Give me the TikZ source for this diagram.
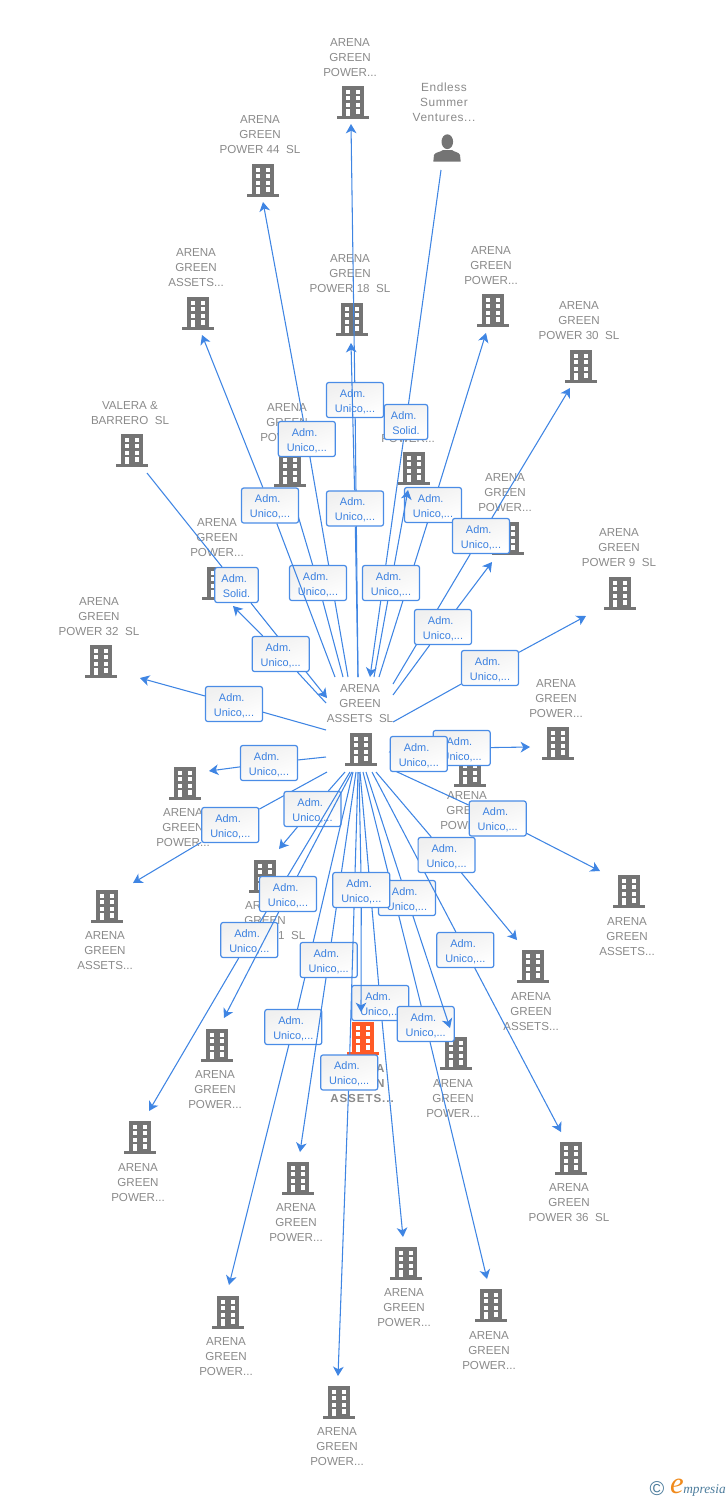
\documentclass[tikz,border=0pt]{standalone}
\usepackage{fontspec}
\setmainfont{Liberation Sans}
\newfontfamily\logofont{Liberation Serif}
\usetikzlibrary{arrows.meta,positioning}

\definecolor{linkblue}{HTML}{3F85E3}
\definecolor{boxblue}{HTML}{4A8CE6}
\definecolor{boxtext}{HTML}{3A80E0}
\definecolor{labelgrey}{HTML}{8A8A8A}
\definecolor{icongrey}{HTML}{747474}
\definecolor{iconred}{HTML}{FF5A26}
\definecolor{logoblue}{HTML}{4C7C9C}
\definecolor{logoorange}{HTML}{F08A1C}

\tikzstyle{link}     = [linkblue,line width=0.8pt,-{Stealth[length=7pt,width=8pt,inset=2pt]}]
\tikzstyle{plainlink}= [linkblue,line width=0.8pt]
\tikzstyle{admbox}   = [draw=boxblue,line width=0.9pt,rounded corners=1.6pt,top color=black!6,bottom color=white,shading angle=20,minimum width=42.7pt,minimum height=26.2pt,inner sep=0pt,align=center,text=boxtext,font=\fontsize{8.2}{11.25}\selectfont]
\tikzstyle{solidbox} = [admbox,minimum width=32.5pt]
\tikzstyle{company}  = [inner sep=0pt,yshift=-0.75pt,align=center,text=labelgrey,font=\fontsize{8.7}{11.25}\selectfont]

\tikzset{building/.pic={
        \fill[#1] (-11,-16) rectangle (11,14);
        \fill[#1] (-16,14) rectangle (16,17);
        \foreach \wy in {-12.5,-5.8,0.9} {
            \fill[white] (-6.8,\wy) rectangle (-2.6,\wy+4.2);
            \fill[white] (2.6,\wy) rectangle (6.8,\wy+4.2);
        }
        \fill[white] (-6.8,7.4) rectangle (-2.6,14);
        \fill[white] (2.6,7.4) rectangle (6.8,11.6);
}}

% name, label position, label text, icon position
\newcommand{\firm}[4]{
    \node[company] (#1) at (#2) {#3};
    \pic at (#4) {building=icongrey};
}
% box style, name, start, box position, tip, box text
\newcommand{\admlink}[6][admbox]{
    \coordinate (s#2) at (#3);
    \coordinate (t#2) at (#5);
    \node[#1] (b#2) at (#4) {#6};
    \draw[link] (s#2) -- (b#2) -- (t#2);
}
\newcommand{\admtext}[1]{\rule{0pt}{8.1pt}Adm.\hspace*{3.4pt}\\#1}

\begin{document}
\begin{tikzpicture}[x=0.75pt,y=-0.75pt]
    \useasboundingbox (0,0) rectangle (728,1500);

    \firm{ptop}{350,57}{ARENA\\GREEN\\POWER...}{353,102}
    \firm{p44}{260,134}{ARENA\\GREEN\\POWER 44\ \ SL}{263,180}
    \firm{atl}{196,267}{ARENA\\GREEN\\ASSETS...}{198,313}
    \firm{p18}{350,273}{ARENA\\GREEN\\POWER 18\ \ SL}{352,319}
    \firm{ptr}{491,265}{ARENA\\GREEN\\POWER...}{493,310}
    \firm{p30}{579,320}{ARENA\\GREEN\\POWER 30\ \ SL}{581,366}
    \firm{valera}{130,412.5}{VALERA \&\\BARRERO\ \ SL}{132,450}
    \firm{pml}{287,422}{ARENA\\GREEN\\POWER...}{290,470}
    \firm{pmr}{408,423}{ARENA\\GREEN\\POWER...}{414,468}
    \firm{prr}{505,492}{ARENA\\GREEN\\POWER...}{508,538}
    \firm{p9}{619,547}{ARENA\\GREEN\\POWER 9\ \ SL}{620,593}
    \firm{pll}{217,537}{ARENA\\GREEN\\POWER...}{218,583}
    \firm{p32}{99,616}{ARENA\\GREEN\\POWER 32\ \ SL}{101,661}
    \firm{pe}{556,698}{ARENA\\GREEN\\POWER...}{558,743}
    \firm{pw}{183,827}{ARENA\\GREEN\\POWER...}{185,783}
    \firm{asw}{105,950}{ARENA\\GREEN\\ASSETS...}{107,906}
    \firm{ase}{627,936}{ARENA\\GREEN\\ASSETS...}{629,891}
    \firm{pc}{467,810}{ARENA\\GREEN\\POWER...}{470,770}
    \firm{p31}{265,920}{ARENA\\GREEN\\POWER 31\ \ SL}{265,876}
    \firm{asc}{531,1011}{ARENA\\GREEN\\ASSETS...}{533,966}
    \firm{psw}{215,1089}{ARENA\\GREEN\\POWER...}{217,1045}
    \firm{pse}{453,1098}{ARENA\\GREEN\\POWER...}{456,1053}
    \firm{pfw}{138,1182}{ARENA\\GREEN\\POWER...}{140,1137}
    \firm{p36}{569,1202}{ARENA\\GREEN\\POWER 36\ \ SL}{571,1158}
    \firm{pb1}{296,1222}{ARENA\\GREEN\\POWER...}{298,1178}
    \firm{pb2}{404,1307}{ARENA\\GREEN\\POWER...}{406,1263}
    \firm{pb3}{489,1350}{ARENA\\GREEN\\POWER...}{491,1305}
    \firm{pb4}{226,1356}{ARENA\\GREEN\\POWER...}{228,1312}
    \firm{pb5}{337,1446}{ARENA\\GREEN\\POWER...}{339,1402}
    \firm{hub}{360,703}{ARENA\\GREEN\\ASSETS\ \ SL}{361,749}

    % the owner on top and the red company
    \node[company,font=\fontsize{8.9}{11.25}\selectfont\addfontfeature{LetterSpace=5}] (endless) at (444,101) {Endless\\Summer\\Ventures...};
    \fill[icongrey] (447.3,141.7) ellipse (5.8 and 7.4);
    \fill[icongrey] (433.3,161.7) -- (434,155) .. controls (435,152) and (441,152) .. (443,150) -- (452,150) .. controls (454,152) and (459,152) .. (460,155) -- (460.7,161.7) -- cycle;
    \node[company,font=\fontsize{8.7}{11.25}\selectfont\bfseries\addfontfeature{LetterSpace=8}] (red) at (362,1083) {ARENA\\GREEN\\ASSETS...};
    \pic at (363,1038) {building=iconred};

    % upper fan
    \admlink{top}{358,677}{355,400}{351,124}{\admtext{Unico,...}}
    \admlink{pow18}{358,677}{355,508.5}{351,343}{\admtext{Unico,...}}
    \admlink[solidbox]{end}{441,170}{406,422}{370,677}{\admtext{Solid.}}
    \admlink{pow44}{348,677}{306.8,439}{263,202}{\admtext{Unico,...}}
    \admlink{powml}{343,677}{318,583}{291,492}{\admtext{Unico,...}}
    \admlink{asstl}{335,677}{270,505.5}{202,335}{\admtext{Unico,...}}
    \admlink{powtr}{379,677}{433,505}{486,333}{\admtext{Unico,...}}
    \admlink{powmr}{374,677}{391,583}{408,490}{\admtext{Unico,...}}
    \admlink{pow30}{393,684}{481,536}{570,388}{\admtext{Unico,...}}
    \admlink{powrr}{393,695}{443,627}{492,562}{\admtext{Unico,...}}
    \admlink{pow9}{393,722}{490,668}{586,616}{\admtext{Unico,...}}
    \admlink[solidbox]{val}{147,473}{236.5,585}{327,698}{\admtext{Solid.}}
    \admlink{powll}{326,703}{280.7,654}{233,606}{\admtext{Unico,...}}

    % sides
    \admlink{pow32}{326,730}{234,704}{140,678}{\admtext{Unico,...}}
    \admlink{poww}{326,757}{269,763}{209,771}{\admtext{Unico,...}}
    \admlink{assw}{327,772}{230.3,825}{133,883}{\admtext{Unico,...}}
    \admlink{pow31}{345,772}{312.5,809}{279,849}{\admtext{Unico,...}}
    \admlink{powe}{393,745}{461.7,748}{530,747}{\admtext{Unico,...}}
    \admlink{asse}{393,770}{497.7,818.5}{600,871}{\admtext{Unico,...}}
    \coordinate (spowc) at (389,752);
    \node[admbox] (bpowc) at (418.8,754) {\admtext{Unico,...}};
    \draw[plainlink] (spowc) -- (bpowc);

    % lower fan
    \admlink{powfw}{350,772}{249.3,940}{149,1111}{\admtext{Unico,...}}
    \admlink{powsw}{352,772}{288,894}{224,1018}{\admtext{Unico,...}}
    \admlink{powb4}{353,772}{293.3,1027}{229,1285}{\admtext{Unico,...}}
    \admlink{powb1}{356,772}{328.7,960}{300,1152}{\admtext{Unico,...}}
    \admlink{powb5}{358,772}{349.2,1072.5}{338,1376}{\admtext{Unico,...}}
    \admlink{powb2}{360,772}{380.3,1003}{403,1237}{\admtext{Unico,...}}
    \admlink{powb3}{363,772}{425.7,1024}{487,1279}{\admtext{Unico,...}}
    \admlink{powse}{366,772}{407,898}{450,1028}{\admtext{Unico,...}}
    \admlink{assred}{359,772}{361.3,890}{361,1012}{\admtext{Unico,...}}
    \admlink{pow36}{372,772}{465.3,950}{561,1132}{\admtext{Unico,...}}
    \admlink{assc}{376,772}{446.6,855}{517,940}{\admtext{Unico,...}}

    % logo
    \node[inner sep=0pt,text=logoblue,font=\fontsize{15}{15}\selectfont] (copy) at (657,1489) {©};
    \node[inner sep=0pt,text=logoorange,font=\logofont\itshape\fontsize{23}{23}\selectfont] (elogo) at (677,1486) {e};
    \node[inner sep=0pt,text=logoblue,font=\logofont\itshape\fontsize{10}{10}\selectfont] (mlogo) at (704.5,1490) {mpresia};
\end{tikzpicture}
\end{document}
